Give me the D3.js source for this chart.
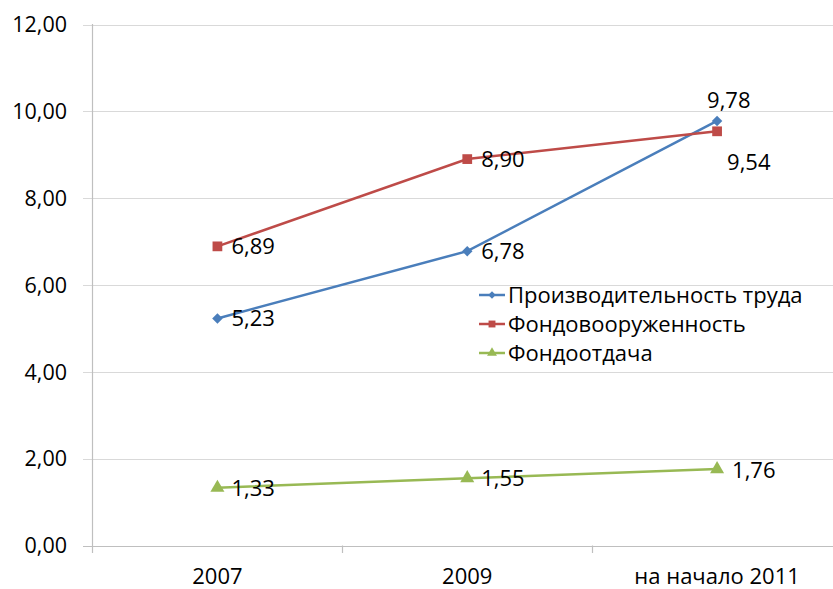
<!DOCTYPE html>
<html>
<head>
<meta charset="utf-8">
<script src="https://cdn.jsdelivr.net/npm/d3@7"></script>
<style>
  body { margin: 0; background: #fff; }
  text { font-family: "Open Sans", Lato, sans-serif; fill: #000; }
</style>
</head>
<body>
<div id="chart"></div>
<script>
var categories = ["2007", "2009", "на начало 2011"];
var yTicks = [0, 2, 4, 6, 8, 10, 12];

var seriesNames = ["Производительность труда", "Фондовооруженность", "Фондоотдача"];
var productivity = [5.23, 6.78, 9.78];
var capitalRatio = [6.89, 8.90, 9.54];
var capitalReturn = [1.33, 1.55, 1.76];

var width = 833, height = 589;

var svg = d3.select("#chart").append("svg")
    .attr("width", width)
    .attr("height", height);

// plot area runs a bit past the right edge, like the original picture
var x = d3.scaleBand()
    .domain(categories)
    .range([92.5, 842]);

var y = d3.scaleLinear()
    .domain([0, 12])
    .range([545.5, 24.5]);

var fmt = function (v) { return d3.format(".2f")(v).replace(".", ","); };

// gridlines
svg.append("g")
    .selectAll("line")
    .data(yTicks)
    .enter()
    .append("line")
    .attr("x1", 83)
    .attr("x2", width)
    .attr("y1", function (d) { return Math.round(y(d)) + 0.5; })
    .attr("y2", function (d) { return Math.round(y(d)) + 0.5; })
    .style("stroke", function (d) { return d === 0 ? "#bfbfbf" : "#d9d9d9"; })
    .style("stroke-width", 1.2);

// y axis labels
svg.append("g")
    .selectAll("text")
    .data(yTicks)
    .enter()
    .append("text")
    .attr("x", 67)
    .attr("y", function (d) { return y(d); })
    .attr("dy", "0.36em")
    .style("text-anchor", "end")
    .style("font-size", "21.5px")
    .text(fmt);

// y axis line
svg.append("line")
    .attr("x1", 92.5).attr("x2", 92.5)
    .attr("y1", 24).attr("y2", 553)
    .style("stroke", "#bfbfbf")
    .style("stroke-width", 1.2);

// category ticks between bands
var bounds = categories.slice(1).map(function (c) { return x(c); });
svg.append("g")
    .selectAll("line")
    .data(bounds)
    .enter()
    .append("line")
    .attr("x1", function (d) { return Math.round(d) + 0.5; })
    .attr("x2", function (d) { return Math.round(d) + 0.5; })
    .attr("y1", 545.5)
    .attr("y2", 553)
    .style("stroke", "#bfbfbf")
    .style("stroke-width", 1.2);

svg.append("g")
    .selectAll("text")
    .data(categories)
    .enter()
    .append("text")
    .attr("x", function (d) { return x(d) + x.bandwidth() / 2; })
    .attr("y", 584)
    .style("text-anchor", "middle")
    .style("font-size", "22px")
    .text(function (d) { return d; });

var cx = function (i) { return x(categories[i]) + x.bandwidth() / 2; };

// diamond = a square turned by 45 degrees
var series = [
    { name: seriesNames[0], values: productivity, color: "#4a7ebb", symbol: d3.symbolSquare, size: 55, rot: 45 },
    { name: seriesNames[1], values: capitalRatio, color: "#be4b48", symbol: d3.symbolSquare, size: 95, rot: 0 },
    { name: seriesNames[2], values: capitalReturn, color: "#98b954", symbol: d3.symbolTriangle, size: 85, rot: 0 }
];

// label offsets [dx, dy] relative to the point, per series & category
var labelShift = [
    [[14, 0], [14, 0], [-10, -21]],
    [[14, 0], [14, 0], [10, 31]],
    [[14, 0], [14, 0], [15, 1]]
];

var line = d3.line()
    .x(function (d, i) { return cx(i); })
    .y(function (d) { return y(d); });

series.forEach(function (s, si) {
    svg.append("path")
        .datum(s.values)
        .attr("d", line)
        .style("fill", "none")
        .style("stroke", s.color)
        .style("stroke-width", 2.5);

    svg.append("g")
        .selectAll("path")
        .data(s.values)
        .enter()
        .append("path")
        .attr("transform", function (d, i) { return "translate(" + cx(i) + "," + y(d) + ") rotate(" + s.rot + ")"; })
        .attr("d", d3.symbol().type(s.symbol).size(s.size))
        .style("fill", s.color);
});

series.forEach(function (s, si) {
    svg.append("g")
        .selectAll("text")
        .data(s.values)
        .enter()
        .append("text")
        .attr("x", function (d, i) { return cx(i) + labelShift[si][i][0]; })
        .attr("y", function (d, i) { return y(d) + labelShift[si][i][1]; })
        .attr("dy", "0.36em")
        .style("font-size", "22px")
        .text(fmt);
});

// legend
var legend = svg.append("g")
    .attr("transform", "translate(479,295)");

var rows = legend.selectAll("g")
    .data(series)
    .enter()
    .append("g")
    .attr("transform", function (d, i) { return "translate(0," + (i * 29) + ")"; });

rows.append("line")
    .attr("x1", 0).attr("x2", 26)
    .style("stroke", function (d) { return d.color; })
    .style("stroke-width", 2.5);

rows.append("path")
    .attr("transform", function (d) { return "translate(13,0) rotate(" + d.rot + ")"; })
    .attr("d", function (d) { return d3.symbol().type(d.symbol).size(d.size * 0.5)(); })
    .style("fill", function (d) { return d.color; });

rows.append("text")
    .attr("x", 29)
    .attr("dy", "0.36em")
    .style("font-size", "22px")
    .text(function (d) { return d.name; });
</script>
</body>
</html>
